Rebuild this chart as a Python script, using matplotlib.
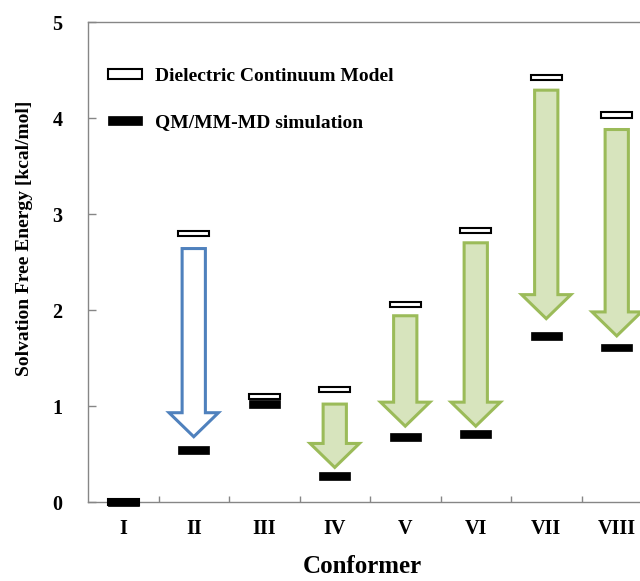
"""Solvation free energy per conformer: dielectric continuum vs QM/MM-MD."""

import matplotlib

matplotlib.use("Agg")
import matplotlib.pyplot as plt
from matplotlib.patches import FancyArrow

plt.rcParams["font.family"] = ["Liberation Serif", "DejaVu Serif"]
plt.rcParams["font.weight"] = "bold"

conformers = ["I", "II", "III", "IV", "V", "VI", "VII", "VIII"]
dcm = [0.0, 2.80, 1.10, 1.17, 2.06, 2.83, 4.42, 4.03]
qmmm = [0.0, 0.54, 1.02, 0.27, 0.68, 0.71, 1.73, 1.61]
# arrow start / tip (None = no arrow)
arrow_top = [None, 2.64, None, 1.02, 1.94, 2.70, 4.29, 3.88]
arrow_tip = [None, 0.68, None, 0.36, 0.79, 0.79, 1.91, 1.73]

GRAY = "#868686"
BLUE = "#4F81BD"
GREEN = "#9BBB59"
GREEN_FILL = "#D7E4BD"

fig = plt.figure(figsize=(6.4, 5.81), dpi=100)
ax = fig.add_axes([88 / 640, 79 / 581, 564 / 640, 480 / 581])

x = list(range(1, len(conformers) + 1))
bw = 0.44
wh = 0.055   # open bar height
bh = 0.08    # black bar height

for i, (top, tip) in enumerate(zip(arrow_top, arrow_tip)):
    if top is None:
        continue
    edge = BLUE if i == 1 else GREEN
    face = "white" if i == 1 else GREEN_FILL
    ax.add_patch(FancyArrow(x[i], top, 0, tip - top, width=0.33,
                            head_width=0.70, head_length=0.25,
                            length_includes_head=True, facecolor=face,
                            edgecolor=edge, linewidth=2.2, zorder=2))

white = ax.bar(x, wh, bottom=[v - wh / 2 for v in dcm], width=bw,
               color="white", edgecolor="black", linewidth=1.5,
               label="Dielectric Continuum Model", zorder=3, clip_on=False)
black = ax.bar(x, bh, bottom=[v - bh / 2 for v in qmmm], width=bw,
               color="black", edgecolor="black", linewidth=0.5,
               label="QM/MM-MD simulation", zorder=4, clip_on=False)

ax.set_xlim(0.5, 8.5)
ax.set_ylim(0, 5)
ax.set_yticks(range(6))
ax.set_xticks(x)
ax.set_xticklabels(conformers)
ax.set_xticks([v + 0.5 for v in x[:-1]], minor=True)
ax.tick_params(axis="y", direction="in", length=6, width=1, color=GRAY,
               pad=18.5, labelsize=14.5)
ax.tick_params(axis="x", which="major", length=0, pad=12, labelsize=14.5)
ax.tick_params(axis="x", which="minor", direction="in", length=4.5,
               width=1, color=GRAY)
for s in ax.spines.values():
    s.set_color(GRAY)
    s.set_linewidth(1)

ax.set_ylabel("Solvation Free Energy [kcal/mol]", fontsize=14,
              fontweight="bold")
ax.yaxis.set_label_coords(-0.0975, 0.55)
ax.set_xlabel("Conformer", fontsize=18, fontweight="bold")
ax.xaxis.set_label_coords(0.486, -0.11)

ax.legend(handles=[white, black], loc="upper left",
          bbox_to_anchor=(20 / 564, (502 - 68) / 480), frameon=False,
          fontsize=14, handlelength=1.75, handleheight=0.36,
          handletextpad=0.65, labelspacing=1.5, borderpad=0,
          borderaxespad=0)

fig.savefig("out.png", dpi=100)
